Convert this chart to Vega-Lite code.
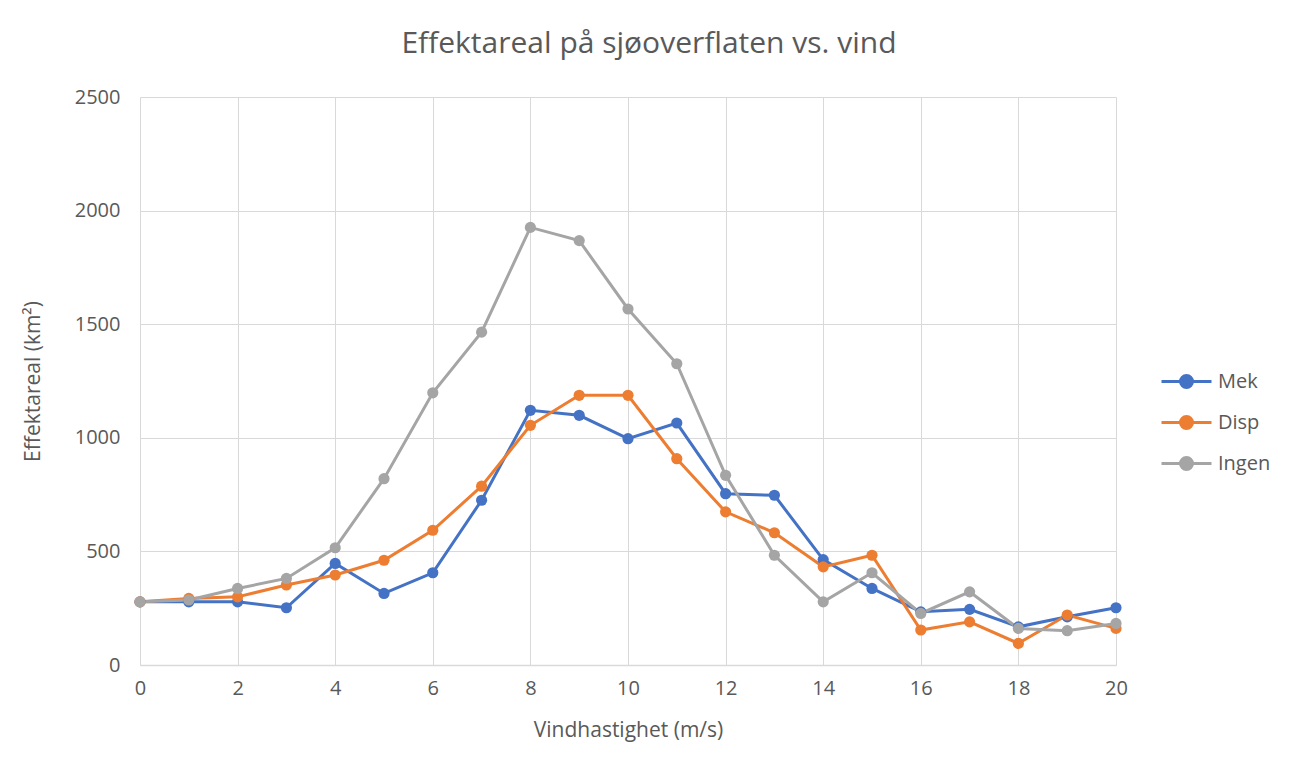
{
  "$schema": "https://vega.github.io/schema/vega-lite/v6.json",
  "autosize": "none",
  "width": 976,
  "height": 568,
  "padding": {"left": 140, "top": 97, "right": 178, "bottom": 104},
  "background": "white",
  "config": {
    "font": "Open Sans",
    "view": {"stroke": null}
  },
  "title": {
    "text": "Effektareal på sjøoverflaten vs. vind",
    "fontSize": 30,
    "fontWeight": "normal",
    "color": "#595959",
    "offset": 28,
    "dx": 21
  },
  "data": {
    "values": [
      {"x": 0, "serie": "Mek", "v": 278}, {"x": 1, "serie": "Mek", "v": 278}, {"x": 2, "serie": "Mek", "v": 278},
      {"x": 3, "serie": "Mek", "v": 252}, {"x": 4, "serie": "Mek", "v": 447}, {"x": 5, "serie": "Mek", "v": 315},
      {"x": 6, "serie": "Mek", "v": 406}, {"x": 7, "serie": "Mek", "v": 725}, {"x": 8, "serie": "Mek", "v": 1121},
      {"x": 9, "serie": "Mek", "v": 1099}, {"x": 10, "serie": "Mek", "v": 996}, {"x": 11, "serie": "Mek", "v": 1065},
      {"x": 12, "serie": "Mek", "v": 754}, {"x": 13, "serie": "Mek", "v": 747}, {"x": 14, "serie": "Mek", "v": 464},
      {"x": 15, "serie": "Mek", "v": 337}, {"x": 16, "serie": "Mek", "v": 234}, {"x": 17, "serie": "Mek", "v": 245},
      {"x": 18, "serie": "Mek", "v": 168}, {"x": 19, "serie": "Mek", "v": 212}, {"x": 20, "serie": "Mek", "v": 252},
      {"x": 0, "serie": "Disp", "v": 278}, {"x": 1, "serie": "Disp", "v": 293}, {"x": 2, "serie": "Disp", "v": 300},
      {"x": 3, "serie": "Disp", "v": 352}, {"x": 4, "serie": "Disp", "v": 396}, {"x": 5, "serie": "Disp", "v": 461},
      {"x": 6, "serie": "Disp", "v": 593}, {"x": 7, "serie": "Disp", "v": 787}, {"x": 8, "serie": "Disp", "v": 1055},
      {"x": 9, "serie": "Disp", "v": 1187}, {"x": 10, "serie": "Disp", "v": 1187}, {"x": 11, "serie": "Disp", "v": 908},
      {"x": 12, "serie": "Disp", "v": 674}, {"x": 13, "serie": "Disp", "v": 582}, {"x": 14, "serie": "Disp", "v": 432},
      {"x": 15, "serie": "Disp", "v": 483}, {"x": 16, "serie": "Disp", "v": 154}, {"x": 17, "serie": "Disp", "v": 190},
      {"x": 18, "serie": "Disp", "v": 95}, {"x": 19, "serie": "Disp", "v": 220}, {"x": 20, "serie": "Disp", "v": 161},
      {"x": 0, "serie": "Ingen", "v": 278}, {"x": 1, "serie": "Ingen", "v": 286}, {"x": 2, "serie": "Ingen", "v": 337},
      {"x": 3, "serie": "Ingen", "v": 381}, {"x": 4, "serie": "Ingen", "v": 516}, {"x": 5, "serie": "Ingen", "v": 820},
      {"x": 6, "serie": "Ingen", "v": 1198}, {"x": 7, "serie": "Ingen", "v": 1465}, {"x": 8, "serie": "Ingen", "v": 1926},
      {"x": 9, "serie": "Ingen", "v": 1868}, {"x": 10, "serie": "Ingen", "v": 1567}, {"x": 11, "serie": "Ingen", "v": 1326},
      {"x": 12, "serie": "Ingen", "v": 835}, {"x": 13, "serie": "Ingen", "v": 483}, {"x": 14, "serie": "Ingen", "v": 278},
      {"x": 15, "serie": "Ingen", "v": 406}, {"x": 16, "serie": "Ingen", "v": 227}, {"x": 17, "serie": "Ingen", "v": 322},
      {"x": 18, "serie": "Ingen", "v": 161}, {"x": 19, "serie": "Ingen", "v": 151}, {"x": 20, "serie": "Ingen", "v": 183}
    ]
  },
  "mark": {
    "type": "line",
    "strokeWidth": 3,
    "point": {"filled": true, "size": 125}
  },
  "encoding": {
    "x": {
      "field": "x",
      "type": "quantitative",
      "scale": {"domain": [0, 20], "nice": false},
      "axis": {
        "title": "Vindhastighet (m/s)",
        "values": [0, 2, 4, 6, 8, 10, 12, 14, 16, 18, 20],
        "format": "d",
        "labelFlush": false,
        "grid": true,
        "gridColor": "#d9d9d9",
        "domainColor": "#d9d9d9",
        "domainWidth": 1.5,
        "ticks": false,
        "labelFontSize": 20,
        "labelColor": "#595959",
        "labelPadding": 13,
        "titleFontSize": 21,
        "titleFontWeight": "normal",
        "titleColor": "#595959",
        "titlePadding": 21
      }
    },
    "y": {
      "field": "v",
      "type": "quantitative",
      "scale": {"domain": [0, 2500], "nice": false},
      "axis": {
        "title": "Effektareal (km²)",
        "values": [0, 500, 1000, 1500, 2000, 2500],
        "format": "d",
        "labelFlush": false,
        "grid": true,
        "gridColor": "#d9d9d9",
        "domain": false,
        "ticks": false,
        "labelFontSize": 20,
        "labelColor": "#595959",
        "labelPadding": 20,
        "titleFontSize": 21,
        "titleFontWeight": "normal",
        "titleColor": "#595959",
        "titlePadding": 31
      }
    },
    "color": {
      "field": "serie",
      "type": "nominal",
      "sort": ["Mek", "Disp", "Ingen"],
      "scale": {"domain": ["Mek", "Disp", "Ingen"], "range": ["#4472C4", "#ED7D31", "#A5A5A5"]},
      "legend": {
        "title": null,
        "orient": "none",
        "legendX": 1025,
        "legendY": 263,
        "symbolType": "M-1.25,0L1.25,0M-0.3,0A0.3,0.3,0,1,1,0.3,0A0.3,0.3,0,1,1,-0.3,0Z",
        "symbolSize": 1600,
        "symbolStrokeWidth": 3,
        "labelFontSize": 20,
        "labelColor": "#595959",
        "labelOffset": 10,
        "rowPadding": 7,
        "encode": {
          "symbols": {"update": {"fill": {"scale": "color", "field": "value"}, "stroke": {"scale": "color", "field": "value"}, "opacity": {"value": 1}}}
        }
      }
    }
  }
}
